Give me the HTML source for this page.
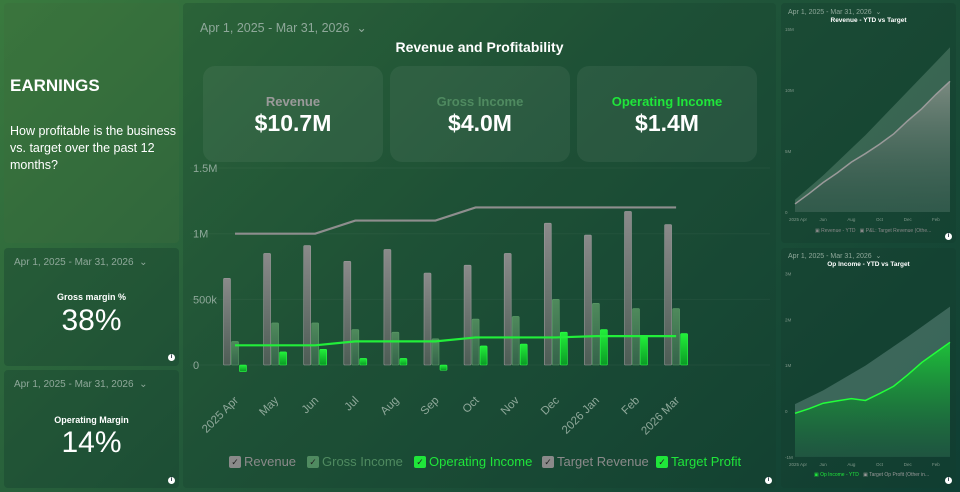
<!DOCTYPE html>
<html><head><meta charset="utf-8">
<style>
*{box-sizing:border-box;margin:0;padding:0}
body{width:960px;height:492px;overflow:hidden;font-family:"Liberation Sans",sans-serif;background:linear-gradient(135deg,#3a7a3e 0%,#22583a 45%,#0f3e33 100%);position:relative;color:#fff}
.panel{position:absolute;border-radius:4px;background:rgba(20,60,45,0.35);overflow:hidden}
.date{position:absolute;font-size:10px;color:#8fa89a}
.info{position:absolute;width:7px;height:7px;border-radius:50%;background:#fff;font-size:6px;color:#123;text-align:center;line-height:7px;font-weight:bold}
.kpi{position:absolute;top:66px;height:96px;width:180px;border-radius:12px;background:rgba(255,255,255,0.06);text-align:center}
.kpi .l{margin-top:28px;font-size:13px;font-weight:bold}
.kpi .v{font-size:23px;font-weight:bold;margin-top:1px}
.leg{position:absolute;top:454px;font-size:13px;display:flex;align-items:center}
.leg i{display:inline-block;width:12px;height:12px;border-radius:2px;margin-right:3px;font-style:normal;font-size:9px;color:#222;text-align:center;line-height:12px}
</style></head><body>
<div class="panel" style="left:4px;top:3px;width:175px;height:240px;background:rgba(60,110,60,0.35)">
  <div style="position:absolute;left:6px;top:73px;font-size:17px;font-weight:bold">EARNINGS</div>
  <div style="position:absolute;left:6px;top:120px;width:170px;font-size:12.5px;line-height:17px">How profitable is the business vs. target over the past 12 months?</div>
</div>
<div class="panel" style="left:4px;top:248px;width:175px;height:118px">
  <div class="date" style="left:10px;top:9px">Apr 1, 2025 - Mar 31, 2026 &nbsp;⌄</div>
  <div style="position:absolute;left:0;width:175px;text-align:center;top:44px;font-size:9px;font-weight:bold">Gross margin %</div>
  <div style="position:absolute;left:0;width:175px;text-align:center;top:56px;font-size:30px">38%</div>
  <div class="info" style="left:164px;top:106px">i</div>
</div>
<div class="panel" style="left:4px;top:370px;width:175px;height:118px">
  <div class="date" style="left:10px;top:9px">Apr 1, 2025 - Mar 31, 2026 &nbsp;⌄</div>
  <div style="position:absolute;left:0;width:175px;text-align:center;top:45px;font-size:9px;font-weight:bold">Operating Margin</div>
  <div style="position:absolute;left:0;width:175px;text-align:center;top:56px;font-size:30px">14%</div>
  <div class="info" style="left:164px;top:107px">i</div>
</div>
<div class="panel" style="left:183px;top:3px;width:593px;height:485px;background:rgba(20,60,45,0.25)"></div>
<div class="date" style="left:200px;top:20px;font-size:12.5px">Apr 1, 2025 - Mar 31, 2026 &nbsp;⌄</div>
<div style="position:absolute;left:183px;width:593px;text-align:center;top:39px;font-size:14px;font-weight:bold">Revenue and Profitability</div>
<div class="kpi" style="left:203px"><div class="l" style="color:#9a9a9a">Revenue</div><div class="v">$10.7M</div></div>
<div class="kpi" style="left:390px"><div class="l" style="color:#4f8a60">Gross Income</div><div class="v">$4.0M</div></div>
<div class="kpi" style="left:577px"><div class="l" style="color:#1fe63a">Operating Income</div><div class="v">$1.4M</div></div>
<svg id="main" width="960" height="492" style="position:absolute;left:0;top:0">
<defs>
<linearGradient id="gR" x1="0" y1="0" x2="0" y2="1"><stop offset="0" stop-color="#8a8a8a"/><stop offset="1" stop-color="#4d5d55"/></linearGradient>
<linearGradient id="gG" x1="0" y1="0" x2="0" y2="1"><stop offset="0" stop-color="#4f8a5c"/><stop offset="1" stop-color="#35634a"/></linearGradient>
<linearGradient id="gO" x1="0" y1="0" x2="0" y2="1"><stop offset="0" stop-color="#22f03a"/><stop offset="1" stop-color="#0a9a25"/></linearGradient>
</defs>
</svg>
<div class="leg" style="left:229px;color:#8a8a8a"><i style="background:#8a8a8a">✓</i>Revenue</div>
<div class="leg" style="left:307px;color:#4f8a60"><i style="background:#4f8a60">✓</i>Gross Income</div>
<div class="leg" style="left:414px;color:#1fe63a"><i style="background:#1fe63a">✓</i>Operating Income</div>
<div class="leg" style="left:542px;color:#8a8a8a"><i style="background:#8a8a8a">✓</i>Target Revenue</div>
<div class="leg" style="left:656px;color:#1fe63a"><i style="background:#1fe63a">✓</i>Target Profit</div>
<div class="info" style="left:765px;top:477px">i</div>

<div class="panel" style="left:781px;top:3px;width:175px;height:240px"></div>
<div class="date" style="left:788px;top:8px;font-size:7px">Apr 1, 2025 - Mar 31, 2026 &nbsp;⌄</div>
<div style="position:absolute;left:781px;width:175px;text-align:center;top:17px;font-size:6.5px;font-weight:bold">Revenue - YTD vs Target</div>
<div style="position:absolute;left:815px;top:228px;font-size:5px;color:#888">▣ Revenue - YTD &nbsp; ▣ P&amp;L: Target Revenue (Othe...</div>
<div class="info" style="left:945px;top:233px">i</div>
<div class="panel" style="left:781px;top:248px;width:175px;height:240px"></div>
<div class="date" style="left:788px;top:252px;font-size:7px">Apr 1, 2025 - Mar 31, 2026 &nbsp;⌄</div>
<div style="position:absolute;left:781px;width:175px;text-align:center;top:261px;font-size:6.5px;font-weight:bold">Op Income - YTD vs Target</div>
<div style="position:absolute;left:814px;top:472px;font-size:5px;color:#999"><span style="color:#1fe63a">▣ Op Income - YTD</span> &nbsp; ▣ Target Op Profit (Other in...</div>
<div class="info" style="left:945px;top:477px">i</div>
<svg id="mini" width="960" height="492" style="position:absolute;left:0;top:0">
<defs>
<linearGradient id="gY" x1="0" y1="0" x2="0" y2="1"><stop offset="0" stop-color="#7a8a80"/><stop offset="1" stop-color="#2a5044" stop-opacity="0.5"/></linearGradient>
<linearGradient id="gP" x1="0" y1="0" x2="0" y2="1"><stop offset="0" stop-color="#1ec03a"/><stop offset="1" stop-color="#0d4a30" stop-opacity="0.6"/></linearGradient>
</defs>
</svg>
<script>
const months=["2025 Apr","May","Jun","Jul","Aug","Sep","Oct","Nov","Dec","2026 Jan","Feb","2026 Mar"];
const revenue=[0.66,0.85,0.91,0.79,0.88,0.70,0.76,0.85,1.08,0.99,1.17,1.07];
const grossIncome=[0.18,0.32,0.32,0.27,0.25,0.20,0.35,0.37,0.50,0.47,0.43,0.43];
const opIncome=[-0.05,0.10,0.12,0.05,0.05,-0.04,0.145,0.16,0.25,0.27,0.22,0.24];
const targetRevenue=[1.0,1.0,1.0,1.1,1.1,1.1,1.2,1.2,1.2,1.2,1.2,1.2];
const targetProfit=[0.15,0.15,0.15,0.18,0.18,0.18,0.21,0.21,0.21,0.22,0.22,0.22];
const yTicks=[0,0.5,1,1.5];
const yTickLabels=["0","500k","1M","1.5M"];
const miniMonths=["2025 Apr","Jun","Aug","Oct","Dec","Feb"];
const revYTD=[0.66,1.51,2.42,3.21,4.09,4.79,5.55,6.4,7.48,8.47,9.64,10.71];
const revTargetYTD=[1.0,2.0,3.0,4.1,5.2,6.3,7.5,8.7,9.9,11.1,12.3,13.5];
const revTicks=[0,5,10,15];
const revTickLabels=["0","5M","10M","15M"];
const opYTD=[-0.05,0.05,0.17,0.22,0.27,0.23,0.38,0.54,0.79,1.06,1.28,1.5];
const opTargetYTD=[0.15,0.3,0.45,0.63,0.81,0.99,1.2,1.41,1.62,1.84,2.06,2.28];
const opTicks=[-1,0,1,2,3];
const opTickLabels=["-1M","0","1M","2M","3M"];

const NS="http://www.w3.org/2000/svg";
function mk(svg,tag,attrs){const e=document.createElementNS(NS,tag);for(const k in attrs)e.setAttribute(k,attrs[k]);svg.appendChild(e);return e;}
const main=document.getElementById('main');
const y=v=>365-v*131.3;
const x=i=>235+i*40.1;
yTicks.forEach((t,i)=>{
  const g=mk(main,'line',{x1:190,x2:770,y1:y(t),y2:y(t),stroke:'rgba(255,255,255,0.04)'});
  
  
  const tx=mk(main,'text',{x:193,y:y(t)+4,fill:'#8fa89a','font-size':11,'font-family':'Liberation Sans'});
  tx.textContent=yTickLabels[i];
  
  
});
function bar(v,cx,fill,stroke,name){
  const top=Math.min(y(v),y(0)),h=Math.abs(y(v)-y(0));
  const r=mk(main,'rect',{x:cx-3.5,y:top,width:7,height:Math.max(h,1),fill:fill,stroke:stroke,'stroke-width':0.6,rx:1});
  
  
}
months.forEach((m,i)=>{
  bar(revenue[i],x(i)-8,'url(#gR)','#999','bar-revenue');
  bar(grossIncome[i],x(i),'url(#gG)','#5a9a66','bar-gross-income');
  bar(opIncome[i],x(i)+8,'url(#gO)','#2bff45','bar-operating-income');
  const tx=mk(main,'text',{x:0,y:0,fill:'#8fa89a','font-size':11.5,'font-family':'Liberation Sans','text-anchor':'end',transform:`translate(${x(i)+4},${401}) rotate(-45)`});
  tx.textContent=m;
  
  
});
const tr=mk(main,'polyline',{points:targetRevenue.map((v,i)=>x(i)+','+y(v)).join(' '),fill:'none',stroke:'#8e8e8e','stroke-width':2.2});


const tp=mk(main,'polyline',{points:targetProfit.map((v,i)=>x(i)+','+y(v)).join(' '),fill:'none',stroke:'#22ee3a','stroke-width':2.2});



const mini=document.getElementById('mini');
function miniChart(top,yFn,ticks,labels,actual,target,lineCol,areaFill,tgtFill,name){
  const mx=i=>795+i*(950-795)/11;
  ticks.forEach((t,i)=>{
    const tx=mk(mini,'text',{x:785,y:yFn(t)+2,fill:'#7f978a','font-size':4.5,'font-family':'Liberation Sans'});
    tx.textContent=labels[i];
    
    
  });
  const base=yFn(ticks[0]);
  const tA=mk(mini,'polygon',{points:target.map((v,i)=>mx(i)+','+yFn(v)).join(' ')+` ${mx(11)},${base} ${mx(0)},${base}`,fill:tgtFill});
  
  
  const aA=mk(mini,'polygon',{points:actual.map((v,i)=>mx(i)+','+yFn(v)).join(' ')+` ${mx(11)},${base} ${mx(0)},${base}`,fill:areaFill});
  
  
  const l=mk(mini,'polyline',{points:actual.map((v,i)=>mx(i)+','+yFn(v)).join(' '),fill:'none',stroke:lineCol,'stroke-width':1.5});
  
  
  miniMonths.forEach((m,i)=>{
    const tx=mk(mini,'text',{x:mx(i*2)+(i==0?3:0),y:top,fill:'#7f978a','font-size':4.5,'font-family':'Liberation Sans','text-anchor':'middle'});
    tx.textContent=m;
    
    
  });
}
miniChart(221,v=>212-v*12.2,revTicks,revTickLabels,revYTD,revTargetYTD,'#9a9a9a','url(#gY)','rgba(120,160,140,0.35)','revenue-ytd');
miniChart(466,v=>411-v*45.8,opTicks,opTickLabels,opYTD,opTargetYTD,'#22ff3a','url(#gP)','rgba(120,160,150,0.4)','op-income-ytd');
</script>
</body></html>
